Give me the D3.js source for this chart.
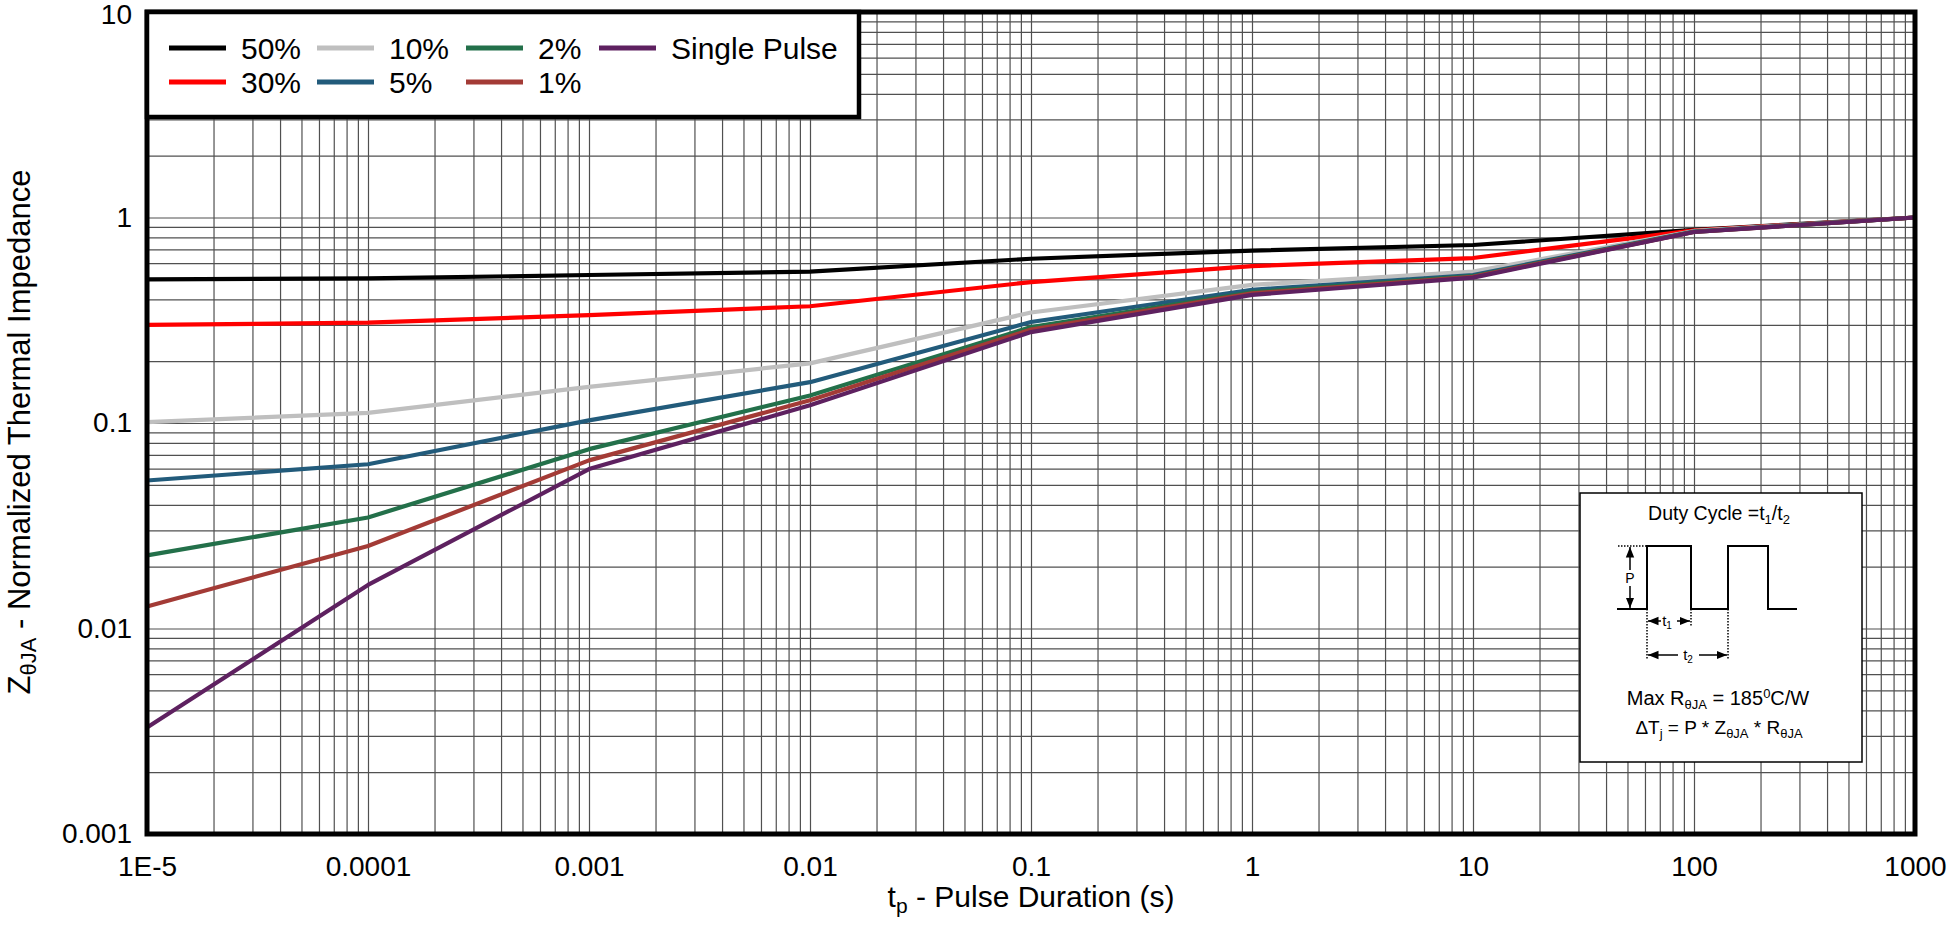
<!DOCTYPE html>
<html>
<head>
<meta charset="utf-8">
<script src="https://cdn.jsdelivr.net/npm/d3@7"></script>
<style>
html,body{margin:0;padding:0;background:#fff;}
svg{display:block;font-family:"Liberation Sans",Arial,Helvetica,sans-serif;}
</style>
</head>
<body>
<svg id="chart" width="1952" height="925"></svg>
<script>
// ---------- data ----------
const pulseDurations = [1e-5, 1e-4, 1e-3, 1e-2, 0.1, 1, 10, 100, 1000];
const seriesNames = ["50%", "30%", "10%", "5%", "2%", "1%", "Single Pulse"];
const duty50 = [0.50, 0.505, 0.525, 0.545, 0.63, 0.69, 0.735, 0.87, 1.0];
const duty30 = [0.30, 0.308, 0.335, 0.37, 0.485, 0.58, 0.635, 0.865, 1.0];
const duty10 = [0.101, 0.112, 0.15, 0.195, 0.345, 0.47, 0.545, 0.86, 1.0];
const duty5 = [0.0525, 0.063, 0.103, 0.158, 0.31, 0.445, 0.525, 0.855, 1.0];
const duty2 = [0.0227, 0.0347, 0.0746, 0.136, 0.293, 0.433, 0.518, 0.852, 1.0];
const duty1 = [0.0128, 0.0252, 0.0658, 0.129, 0.285, 0.427, 0.515, 0.85, 1.0];
const singlePulse = [0.0033, 0.0163, 0.0597, 0.122, 0.277, 0.42, 0.51, 0.85, 1.0];
const seriesValues = [duty50, duty30, duty10, duty5, duty2, duty1, singlePulse];
const seriesColors = ["#000000", "#ff0000", "#bfbfbf", "#225b7b", "#23704a", "#a33b36", "#5e2160"];
const xTickValues = [1e-5, 1e-4, 1e-3, 1e-2, 0.1, 1, 10, 100, 1000];
const xTickLabels = ["1E-5", "0.0001", "0.001", "0.01", "0.1", "1", "10", "100", "1000"];
const yTickValues = [0.001, 0.01, 0.1, 1, 10];
const yTickLabels = ["0.001", "0.01", "0.1", "1", "10"];

// ---------- layout ----------
const L = 147, R = 1915, T = 12, B = 834;
const W = R - L, H = B - T;
const svg = d3.select("#chart");
const x = d3.scaleLog().domain([1e-5, 1000]).range([L, R]);
const y = d3.scaleLog().domain([0.001, 10]).range([B, T]);

function minors(lo, hi) {
  const out = [];
  for (let e = Math.round(Math.log10(lo)); e < Math.round(Math.log10(hi)); e++) {
    for (let k = 1; k <= 9; k++) out.push(k * Math.pow(10, e));
  }
  out.push(hi);
  return out;
}

// grid
const gx = svg.append("g").attr("transform", `translate(0,${B})`)
  .call(d3.axisBottom(x).tickValues(minors(1e-5, 1000)).tickSize(-H).tickFormat(""));
gx.select(".domain").remove();
gx.selectAll("line").attr("stroke", "#505050").attr("stroke-width", 1.2);
const gy = svg.append("g").attr("transform", `translate(${L},0)`)
  .call(d3.axisLeft(y).tickValues(minors(0.001, 10)).tickSize(-W).tickFormat(""));
gy.select(".domain").remove();
gy.selectAll("line").attr("stroke", "#505050").attr("stroke-width", 1.2);

// series
const line = d3.line().x(d => x(d[0])).y(d => y(d[1]));
seriesValues.forEach((vals, i) => {
  svg.append("path")
    .datum(pulseDurations.map((t, j) => [t, vals[j]]))
    .attr("fill", "none")
    .attr("stroke", seriesColors[i])
    .attr("stroke-width", 4.2)
    .attr("stroke-linejoin", "round")
    .attr("d", line);
});

// frame
svg.append("rect").attr("x", L).attr("y", T).attr("width", W).attr("height", H)
  .attr("fill", "none").attr("stroke", "#000").attr("stroke-width", 5);

// axes labels
const ax = svg.append("g").attr("transform", `translate(0,${B})`)
  .call(d3.axisBottom(x).tickValues(xTickValues).tickSize(0).tickPadding(22)
    .tickFormat((d, i) => xTickLabels[i]));
ax.select(".domain").remove();
ax.selectAll("text").attr("font-size", 28).attr("font-family", "Liberation Sans, Arial, sans-serif").attr("fill", "#000");

const ay = svg.append("g").attr("transform", `translate(${L},0)`)
  .call(d3.axisLeft(y).tickValues(yTickValues).tickSize(0).tickPadding(15)
    .tickFormat((d, i) => yTickLabels[i]));
ay.select(".domain").remove();
ay.selectAll("text").attr("font-size", 28).attr("font-family", "Liberation Sans, Arial, sans-serif").attr("fill", "#000")
  .attr("dy", d => d === 10 ? "0.42em" : "0.32em");

// axis titles
const xt = svg.append("text").attr("x", (L + R) / 2).attr("y", 907)
  .attr("text-anchor", "middle").attr("font-size", 30);
xt.append("tspan").text("t");
xt.append("tspan").attr("font-size", 21).attr("dy", 6).text("p");
xt.append("tspan").attr("dy", -6).text(" - Pulse Duration (s)");

const yt = svg.append("text").attr("transform", `translate(30,432) rotate(-90)`)
  .attr("text-anchor", "middle").attr("font-size", 31);
yt.append("tspan").text("Z");
yt.append("tspan").attr("font-size", 22).attr("dy", 6).text("θJA");
yt.append("tspan").attr("dy", -6).text(" - Normalized Thermal Impedance");

// legend
svg.append("rect").attr("x", L).attr("y", T).attr("width", 859 - L).attr("height", 117 - T)
  .attr("fill", "#fff").attr("stroke", "#000").attr("stroke-width", 4.5);
const legCols = [169, 317, 466, 599];
const legRows = [48, 82];
seriesNames.forEach((name, i) => {
  const col = Math.floor(i / 2), row = i % 2;
  const lx = legCols[col], ly = legRows[row];
  svg.append("line").attr("x1", lx).attr("x2", lx + 57).attr("y1", ly).attr("y2", ly)
    .attr("stroke", seriesColors[i]).attr("stroke-width", 5);
  svg.append("text").attr("x", lx + 72).attr("y", ly).attr("dy", "0.36em")
    .attr("font-size", 30).text(name);
});

// inset
const ins = svg.append("g");
ins.append("rect").attr("x", 1580).attr("y", 493).attr("width", 282).attr("height", 269)
  .attr("fill", "#fff").attr("stroke", "#000").attr("stroke-width", 1.5);
const defs = svg.append("defs");
defs.append("marker").attr("id", "ah").attr("viewBox", "0 0 10 10").attr("refX", 10).attr("refY", 5)
  .attr("markerWidth", 7).attr("markerHeight", 7).attr("orient", "auto-start-reverse")
  .append("path").attr("d", "M0,1 L10,5 L0,9 z").attr("fill", "#000");
const t1 = ins.append("text").attr("x", 1719).attr("y", 520).attr("text-anchor", "middle").attr("font-size", 19.5);
t1.append("tspan").text("Duty Cycle =t");
t1.append("tspan").attr("font-size", 13).attr("dy", 4).text("1");
t1.append("tspan").attr("dy", -4).text("/t");
t1.append("tspan").attr("font-size", 13).attr("dy", 4).text("2");
const pBase = 609, pTop = 546;
ins.append("path").attr("d", `M1617,${pBase} H1647 V${pTop} H1691 V${pBase} H1728 V${pTop} H1768 V${pBase} H1797`)
  .attr("fill", "none").attr("stroke", "#000").attr("stroke-width", 2);
ins.append("line").attr("x1", 1618).attr("x2", 1647).attr("y1", pTop).attr("y2", pTop)
  .attr("stroke", "#000").attr("stroke-width", 1.5).attr("stroke-dasharray", "1.5,1.5");
[[1647, 660], [1691, 627], [1728, 660]].forEach(([dx, dy]) => {
  ins.append("line").attr("x1", dx).attr("x2", dx).attr("y1", pBase).attr("y2", dy)
    .attr("stroke", "#000").attr("stroke-width", 1.5).attr("stroke-dasharray", "1.5,1.5");
});
// P arrow
ins.append("line").attr("x1", 1630).attr("x2", 1630).attr("y1", 570).attr("y2", pTop + 1)
  .attr("stroke", "#000").attr("stroke-width", 1.5).attr("marker-end", "url(#ah)");
ins.append("line").attr("x1", 1630).attr("x2", 1630).attr("y1", 586).attr("y2", pBase - 1)
  .attr("stroke", "#000").attr("stroke-width", 1.5).attr("marker-end", "url(#ah)");
ins.append("text").attr("x", 1630).attr("y", 583).attr("text-anchor", "middle").attr("font-size", 14).text("P");
// t1 arrow
ins.append("line").attr("x1", 1661).attr("x2", 1648).attr("y1", 621).attr("y2", 621)
  .attr("stroke", "#000").attr("stroke-width", 1.5).attr("marker-end", "url(#ah)");
ins.append("line").attr("x1", 1677).attr("x2", 1690).attr("y1", 621).attr("y2", 621)
  .attr("stroke", "#000").attr("stroke-width", 1.5).attr("marker-end", "url(#ah)");
const tt1 = ins.append("text").attr("x", 1667).attr("y", 626).attr("text-anchor", "middle").attr("font-size", 15);
tt1.append("tspan").text("t");
tt1.append("tspan").attr("font-size", 10).attr("dy", 3).text("1");
// t2 arrow
ins.append("line").attr("x1", 1678).attr("x2", 1648).attr("y1", 655).attr("y2", 655)
  .attr("stroke", "#000").attr("stroke-width", 1.5).attr("marker-end", "url(#ah)");
ins.append("line").attr("x1", 1699).attr("x2", 1727).attr("y1", 655).attr("y2", 655)
  .attr("stroke", "#000").attr("stroke-width", 1.5).attr("marker-end", "url(#ah)");
const tt2 = ins.append("text").attr("x", 1688).attr("y", 660).attr("text-anchor", "middle").attr("font-size", 15);
tt2.append("tspan").text("t");
tt2.append("tspan").attr("font-size", 10).attr("dy", 3).text("2");
// formulas
const f1 = ins.append("text").attr("x", 1718).attr("y", 705).attr("text-anchor", "middle").attr("font-size", 20);
f1.append("tspan").text("Max R");
f1.append("tspan").attr("font-size", 13).attr("dy", 4).text("θJA");
f1.append("tspan").attr("dy", -4).text(" = 185");
f1.append("tspan").attr("font-size", 13).attr("dy", -7).text("0");
f1.append("tspan").attr("dy", 7).text("C/W");
const f2 = ins.append("text").attr("x", 1719).attr("y", 734).attr("text-anchor", "middle").attr("font-size", 19);
f2.append("tspan").text("ΔT");
f2.append("tspan").attr("font-size", 13).attr("dy", 4).text("j");
f2.append("tspan").attr("dy", -4).text(" = P * Z");
f2.append("tspan").attr("font-size", 13).attr("dy", 4).text("θJA");
f2.append("tspan").attr("dy", -4).text(" * R");
f2.append("tspan").attr("font-size", 13).attr("dy", 4).text("θJA");
</script>
</body>
</html>
